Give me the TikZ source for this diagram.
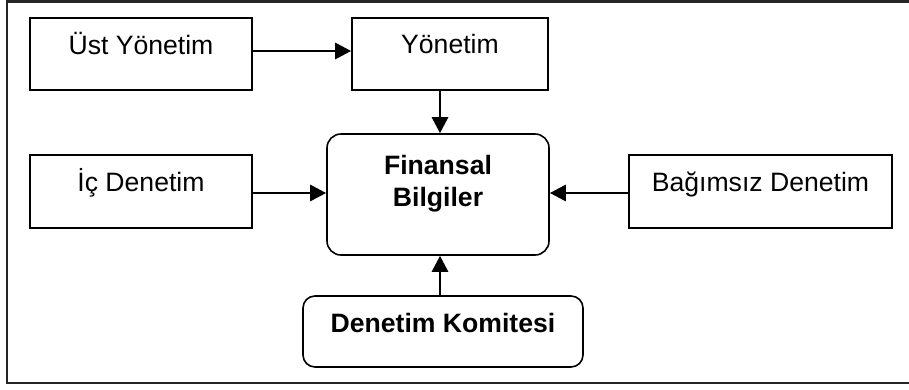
\documentclass[tikz,border=0pt]{standalone}
\usepackage{fontspec}
\setmainfont{Liberation Sans}
\usetikzlibrary{arrows.meta}

\tikzset{
  box/.style={draw=black, line width=1.6pt, rectangle, inner sep=0pt},
  roundbox/.style={box, rounded corners=14pt},
  lbl/.style={anchor=base, inner sep=0pt, font=\fontsize{26.6}{32}\selectfont},
  boldlbl/.style={lbl, font=\fontsize{26.6}{32}\selectfont\bfseries},
  flow/.style={line width=2.8pt, -{Triangle[length=16pt,width=16pt]}},
  frame/.style={line width=2.2pt, draw=black!85}
}

\begin{document}
\begin{tikzpicture}[x=1pt, y=-1pt]
  \useasboundingbox[clip] (0,0) rectangle (909,389);
  \fill[white] (0,0) rectangle (909,389);

  % outer frame (its right side runs past the page edge)
  \draw[frame] (925,1.5) -- (7,1.5) -- (7,383) -- (925,383);

  % boxes
  \node[box, minimum width=222pt, minimum height=72pt] (ust) at (141,54) {};
  \node[box, minimum width=196pt, minimum height=72pt] (yon) at (450,54) {};
  \node[box, minimum width=222pt, minimum height=73pt] (ic) at (141,191.5) {};
  \node[box, minimum width=263pt, minimum height=73pt] (bag) at (760.5,191.5) {};
  \node[roundbox, minimum width=222pt, minimum height=121pt] (fin) at (438,194.5) {};
  \node[roundbox, rounded corners=12pt, minimum width=280pt, minimum height=71pt] (dk) at (443,331.5) {};

  % labels
  \node[lbl] (tust) at ([yshift=-37pt]ust.north) {Üst Yönetim};
  \node[lbl] (tyon) at ([yshift=-36pt]yon.north) {Yönetim};
  \node[lbl] (tic) at ([yshift=-37pt]ic.north) {İç Denetim};
  \node[lbl] (tbag) at ([yshift=-37pt]bag.north) {Bağımsız Denetim};
  % base anchor of a two-line node sits on its last line
  \node[boldlbl, align=center] (tfin) at ([yshift=-73pt]fin.north) {Finansal\\Bilgiler};
  \node[boldlbl] (tdk) at ([yshift=-37pt]dk.north) {Denetim Komitesi};

  % connectors
  \draw[flow] ([yshift=3pt]ust.east) -- ([yshift=3pt]yon.west);
  \draw[flow] ([xshift=-10pt]yon.south) -- ([xshift=-10pt]yon.south |- fin.north);
  \draw[flow] ([yshift=-1.5pt]ic.east) -- ([yshift=-1.5pt]ic.east -| fin.west);
  \draw[flow] ([yshift=-1.5pt]bag.west) -- ([yshift=-1.5pt]bag.west -| fin.east);
  \draw[flow] ([xshift=-3pt]dk.north) -- ([xshift=-3pt]dk.north |- fin.south);
\end{tikzpicture}
\end{document}
